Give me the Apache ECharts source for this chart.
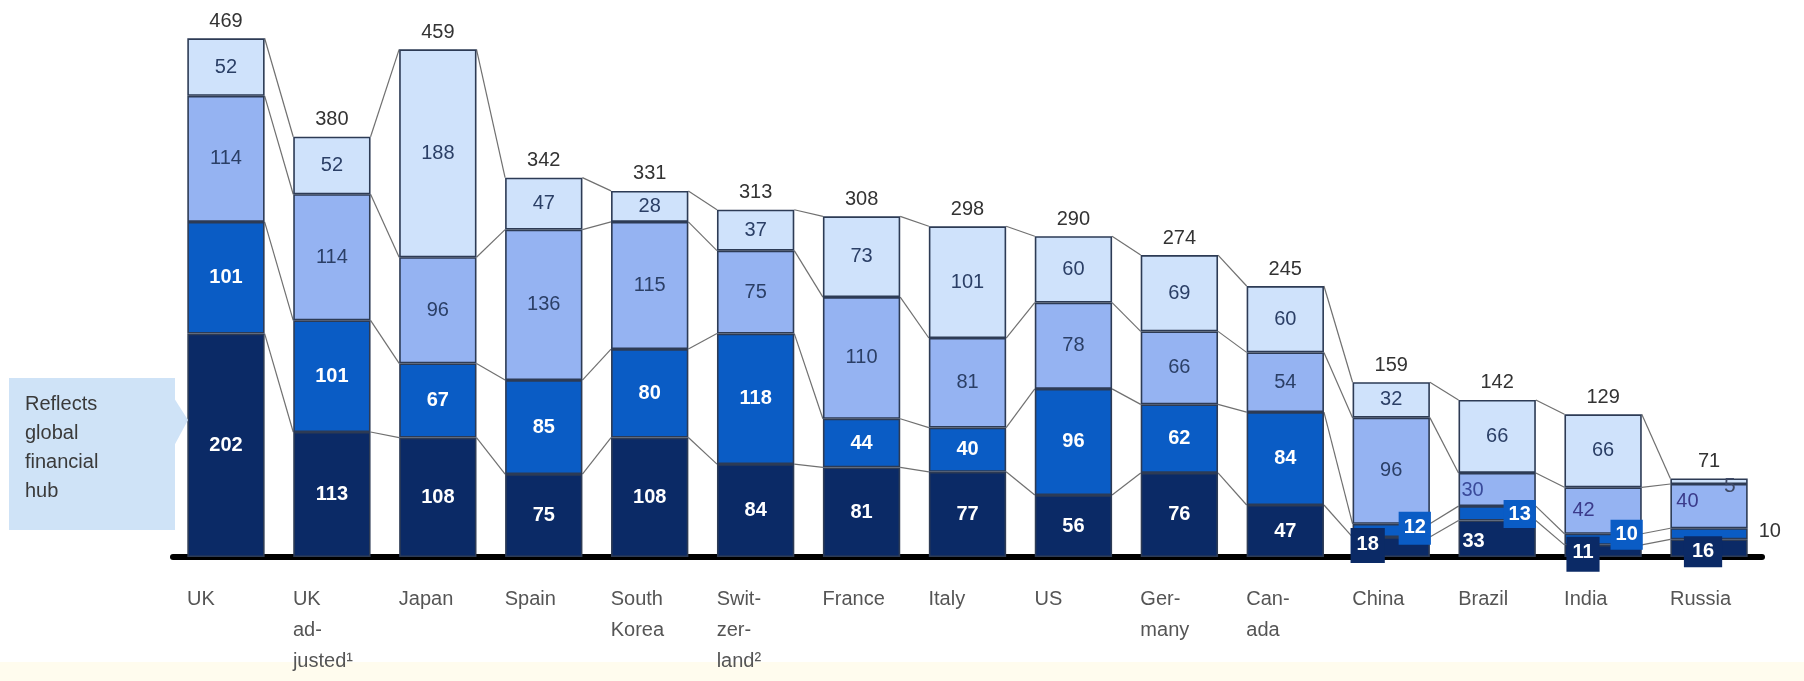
<!DOCTYPE html>
<html><head><meta charset="utf-8">
<script src="https://cdn.jsdelivr.net/npm/echarts@6/dist/echarts.min.js"></script>
<style>html,body{margin:0;padding:0;background:#fff}#c{width:1804px;height:681px}</style>
</head><body><div id="c"></div>
<script>
const categories = ['UK','UK\nad-\njusted¹','Japan','Spain','South\nKorea','Swit-\nzer-\nland²','France','Italy','US','Ger-\nmany','Can-\nada','China','Brazil','India','Russia'];
const seg1 = [202,113,108,75,108,84,81,77,56,76,47,18,33,11,16];
const seg2 = [101,101,67,85,80,118,44,40,96,62,84,12,13,10,10];
const seg3 = [114,114,96,136,115,75,110,81,78,66,54,96,30,42,40];
const seg4 = [52,52,188,47,28,37,73,101,60,69,60,32,66,66,5];
const totals = [469,380,459,342,331,313,308,298,290,274,245,159,142,129,71];
const noteLines = ['Reflects','global','financial','hub'];

const FONT = 'Liberation Sans, Arial, sans-serif';
const navy = '#0b2a66', blue = '#0a5cc5', mid = '#95b3f2', light = '#cfe2fb', edge = '#2d3b55';
const lightText = '#2b3f66';
const BW = 0.73;

// label overrides for small segments (style only)
const special = {
  '0-11': {position:['0%','0%'], align:'left', verticalAlign:'top', offset:[-2,-9], backgroundColor:navy, padding:[6,6,9,6]},
  '1-11': {position:['100%','0%'], align:'right', verticalAlign:'top', offset:[1,-12], backgroundColor:blue, padding:[6,5,7,5]},
  '0-12': {position:['0%','50%'], align:'left', verticalAlign:'middle', offset:[4,3]},
  '1-12': {position:['100%','0%'], align:'right', verticalAlign:'top', offset:[0,-6], backgroundColor:blue, padding:[4,5,4,5]},
  '2-12': {position:['0%','50%'], align:'left', verticalAlign:'middle', offset:[3,1], color:'#3a4a9a'},
  '0-13': {position:['0%','0%'], align:'left', verticalAlign:'top', offset:[2,-8], backgroundColor:navy, padding:[6,6,9,6]},
  '1-13': {position:['100%','0%'], align:'right', verticalAlign:'top', offset:[1,-14], backgroundColor:blue, padding:[5,5,5,5]},
  '2-13': {position:['0%','50%'], align:'left', verticalAlign:'middle', offset:[8,0], color:'#3b3a8a'},
  '0-14': {position:['50%','0%'], align:'center', verticalAlign:'top', offset:[-6,-3], backgroundColor:navy, padding:[5,8,6,8]},
  '1-14': {position:['100%','50%'], align:'left', verticalAlign:'middle', offset:[11,-2], color:'#333', fontWeight:'normal'},
  '2-14': {position:['0%','50%'], align:'left', verticalAlign:'middle', offset:[6,-5], color:'#3b3a8a'},
  '3-14': {position:['100%','50%'], align:'right', verticalAlign:'middle', offset:[-12,5], color:'#3f4a66', fontSize:21}
};

const segs = [seg1, seg2, seg3, seg4];
const fills = [navy, blue, mid, light];
const labelColors = ['#fff', '#fff', lightText, lightText];
const labelWeights = ['bold', 'bold', 'normal', 'normal'];

const barSeries = segs.map((arr, s) => ({
  type: 'bar', stack: 'a', barWidth: (BW*100)+'%',
  itemStyle: {color: fills[s], borderColor: edge, borderWidth: 1.6},
  label: {show: true, position: 'inside', color: labelColors[s], fontWeight: labelWeights[s], fontSize: 20, fontFamily: FONT},
  z: 3,
  data: arr.map((v, i) => {
    const sp = special[s + '-' + i];
    return sp ? {value: v, label: Object.assign({show: true}, sp)} : v;
  })
}));

const levels = categories.map((c, i) => [i, seg1[i], seg1[i]+seg2[i], seg1[i]+seg2[i]+seg3[i], seg1[i]+seg2[i]+seg3[i]+seg4[i]]);

const connSeries = {
  type: 'custom', z: 2, silent: true,
  renderItem: function (params, api) {
    const i = api.value(0);
    const bw = api.size([1, 0])[0] * BW;
    const children = [];
    if (i < categories.length - 1) {
      for (let k = 1; k <= 4; k++) {
        const p1 = api.coord([i, api.value(k)]);
        const p2 = api.coord([i + 1, levels[i + 1][k]]);
        children.push({type: 'line', shape: {x1: p1[0] + bw/2, y1: p1[1], x2: p2[0] - bw/2, y2: p2[1]},
          style: {stroke: '#707070', lineWidth: 1.2}});
      }
    }
    const top = api.coord([i, api.value(4)]);
    children.push({type: 'text', x: top[0], y: top[1] - 7,
      style: {text: String(totals[i]), align: 'center', verticalAlign: 'bottom', fill: '#333', font: '20px ' + FONT}});
    return {type: 'group', children: children};
  },
  data: levels
};

const chart = echarts.init(document.getElementById('c'), null, {renderer: 'canvas'});
chart.setOption({
  animation: false,
  backgroundColor: '#fff',
  grid: {left: 173, right: 42, top: 4, bottom: 124},
  xAxis: {
    type: 'category', data: categories,
    axisLine: {lineStyle: {color: '#000', width: 6}},
    axisTick: {show: false},
    axisLabel: {interval: 0, align: 'left', verticalAlign: 'top', margin: 27, padding: [0, 0, 0, -39],
      fontSize: 20, lineHeight: 31, color: '#555', fontFamily: FONT}
  },
  yAxis: {type: 'value', min: 0, max: 500, show: false},
  series: barSeries.concat([connSeries]),
  graphic: [
    {type: 'rect', shape: {x: 0, y: 662, width: 1804, height: 19}, style: {fill: '#fffcee'}, z: 0},
    {type: 'rect', shape: {x: 9, y: 378, width: 166, height: 152}, style: {fill: '#cfe3f7'}, z: 10},
    {type: 'polygon', shape: {points: [[174, 398], [188, 420], [174, 446]]}, style: {fill: '#cfe3f7'}, z: 10},
    {type: 'text', x: 25, y: 390, z: 11,
      style: {text: noteLines.join('\n'), fill: '#3a3a3a', font: '20px ' + FONT, lineHeight: 29}}
  ]
});
</script>
</body></html>
